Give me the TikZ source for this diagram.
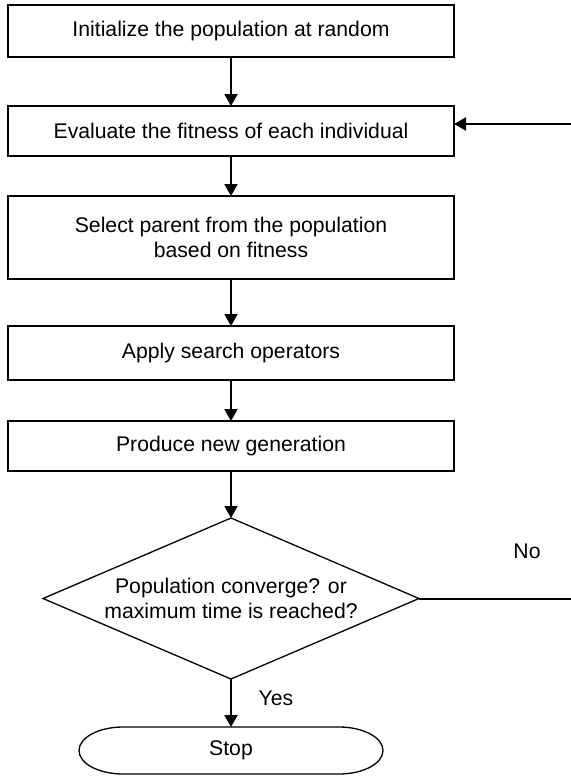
\documentclass[tikz,border=0pt]{standalone}
\usepackage{fontspec}
\setmainfont{Liberation Sans}
\usetikzlibrary{arrows.meta, positioning, shapes.geometric, calc}

\begin{document}
\begin{tikzpicture}[
    every node/.style={font=\fontsize{10.6}{12.7}\selectfont},
    box/.style={rectangle, draw, line width=0.65pt, minimum width=223pt, align=center, inner sep=2pt, outer sep=0pt},
    decision/.style={diamond, draw, line width=0.65pt, aspect=2.335, minimum width=188pt, minimum height=80.5pt, inner sep=0pt, outer sep=0pt, align=center},
    terminal/.style={rectangle, minimum width=108pt, minimum height=23.5pt, outer sep=0pt},
    arrow/.style={-{Triangle[length=6pt, width=6.5pt]}, line width=1pt},
    note/.style={inner sep=0pt}
]
\useasboundingbox (0,0) rectangle (285.5pt,-388pt);

% ============ MAIN FLOW ============
\node[box, minimum height=26pt] (init) at (115.5pt,-15.5pt) {Initialize the population at random};
\node[box, minimum height=25pt, below=24.5pt of init] (eval) {Evaluate the fitness of each individual};
\node[box, minimum height=41.5pt, below=20pt of eval] (select) {Select parent from the population\\based on fitness};
\node[box, minimum height=27pt, below=23.5pt of select] (apply) {Apply search operators};
\node[box, minimum height=25pt, below=20.5pt of apply] (produce) {Produce new generation};

% Decision
\node[decision, below=23.5pt of produce] (decide) {Population converge? or\\maximum time is reached?};

% Stop (terminal with elliptic ends)
\node[terminal, below=24pt of decide] (stop) {Stop};
\draw[line width=0.65pt] (stop.north west) -- (stop.north east)
    arc[start angle=90, end angle=-90, x radius=22pt, y radius=11.75pt]
    -- (stop.south west)
    arc[start angle=270, end angle=90, x radius=22pt, y radius=11.75pt] -- cycle;

% Arrows
\draw[arrow] (init) -- (eval);
\draw[arrow] (eval) -- (select);
\draw[arrow] (select) -- (apply);
\draw[arrow] (apply) -- (produce);
\draw[arrow] (produce) -- (decide);
\draw[arrow] (decide) -- (stop);

% Loop back (runs past the right edge)
\coordinate (edge) at (292pt,0);
\draw[arrow] (decide.east) -- (decide.east -| edge) |- ([yshift=3.5pt]eval.east);

% Labels
\node[note] (no) at ([shift={(54pt,23.5pt)}]decide.east) {No};
\node[note, xshift=22.5pt] (yes) at ($(decide.south)!0.4!(stop.north)$) {Yes};

\end{tikzpicture}
\end{document}
